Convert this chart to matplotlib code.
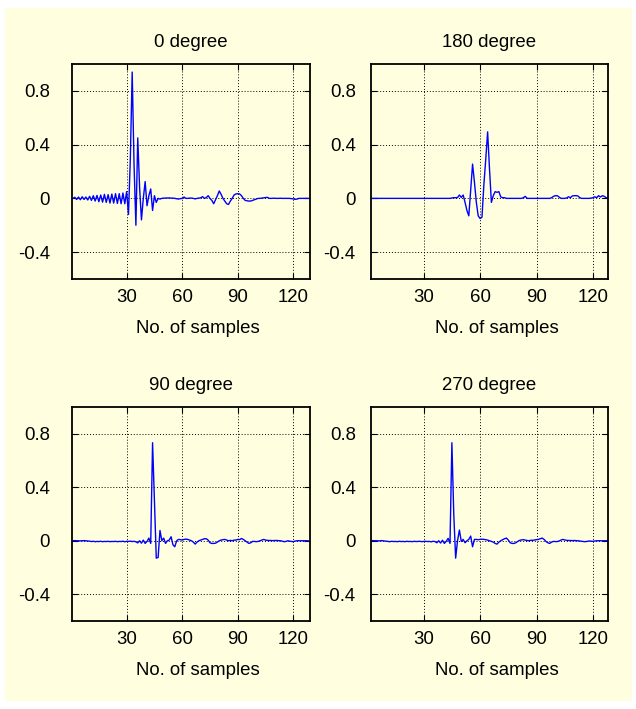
import numpy as np
import matplotlib
matplotlib.use("Agg")
import matplotlib.pyplot as plt
from matplotlib.patches import Rectangle

# --- DATA ---
SAMPLES = np.arange(1, 129)

DEG_0 = [
    0.0, 0.008, -0.008, 0.01, -0.01, 0.012, -0.008, 0.01, -0.012, 0.015,
    -0.015, 0.02, -0.02, 0.022, -0.025, 0.025, -0.028, 0.03, -0.03, 0.028,
    -0.035, 0.032, -0.035, 0.035, -0.038, 0.035, -0.04, 0.04, -0.04, 0.05,
    -0.12, 0.30, 0.94, 0.25, -0.20, 0.45, 0.08, -0.16, 0.0, 0.125,
    -0.055, 0.02, 0.07, -0.09, 0.02, -0.03, 0.0, -0.005, 0.0, 0.002,
    0.002, 0.003, 0.003, 0.002, 0.002, 0.0, -0.003, -0.005, -0.002, 0.0,
    0.01, 0.0, 0.0, 0.002, 0.002, 0.0, -0.004, 0.0, 0.002, 0.004,
    0.013, 0.0, 0.006, 0.02, 0.0, -0.015, -0.04, -0.01, 0.02, 0.055,
    0.03, 0.0, -0.02, -0.04, -0.045, -0.02, 0.0, 0.025, 0.033, 0.035,
    0.033, 0.02, 0.0, -0.015, -0.018, -0.02, -0.02, -0.015, -0.01, -0.005,
    0.0, 0.0, 0.002, 0.004, 0.006, 0.008, 0.0, 0.0, 0.001, 0.001,
    0.0, 0.0, 0.001, 0.0, 0.0, 0.0, 0.0, 0.0, -0.002, -0.004,
    -0.007, -0.005, 0.0, 0.0, 0.0, 0.0, 0.0, 0.0,
]

DEG_180 = [
    0.0, 0.0, 0.0, 0.0, 0.0, 0.0, 0.0, 0.0, 0.0, 0.0,
    0.0, 0.0, 0.0, 0.0, 0.0, 0.0, 0.0, 0.0, 0.0, 0.0,
    0.0, 0.0, 0.0, 0.0, 0.0, 0.0, 0.0, 0.0, 0.0, 0.0,
    0.0, 0.0, 0.0, 0.0, 0.0, 0.0, 0.0, 0.0, 0.0, 0.0,
    0.0, 0.0, 0.0, 0.0, 0.003, 0.005, 0.005, 0.006, 0.025, 0.007,
    0.025, -0.03, -0.09, -0.13, 0.06, 0.255, 0.12, -0.03, -0.13, -0.15,
    -0.14, 0.1, 0.29, 0.495, 0.22, -0.03, 0.02, 0.05, 0.045, 0.05,
    0.01, 0.005, 0.005, 0.0, 0.0, 0.0, 0.0, 0.0, 0.0, 0.0,
    0.0, 0.0, 0.005, 0.015, 0.0, 0.0, 0.0, 0.0, 0.0, 0.0,
    0.0, 0.0, 0.0, 0.0, 0.0, 0.0, 0.0, 0.005, 0.015, 0.02,
    0.02, 0.01, 0.0, 0.0, 0.0, 0.003, 0.012, 0.005, 0.018, 0.02,
    0.02, 0.018, 0.005, 0.0, 0.0, 0.0, 0.0, 0.0, 0.002, 0.005,
    0.012, 0.005, 0.02, 0.01, 0.02, 0.015, 0.005, 0.0,
]

DEG_90 = [
    0.0, 0.001, 0.0, 0.0, -0.001, 0.0, 0.001, 0.0, -0.002, -0.003,
    -0.006, -0.004, -0.007, -0.005, -0.006, -0.004, -0.007, -0.005, -0.006, -0.004,
    -0.007, -0.005, -0.006, -0.004, -0.007, -0.005, -0.006, -0.003, -0.008, -0.004,
    -0.005, -0.003, -0.006, -0.004, -0.008, -0.016, 0.0, -0.018, 0.005, -0.02,
    -0.005, 0.02, -0.02, 0.733, 0.3, -0.13, -0.125, 0.077, 0.0, 0.02,
    -0.02, 0.0, 0.005, 0.03, -0.03, -0.045, 0.0, 0.01, 0.008, 0.005,
    0.01, 0.012, 0.01, 0.005, 0.0, -0.01, -0.025, -0.01, 0.0, 0.005,
    0.01, 0.015, 0.015, 0.005, -0.015, -0.02, -0.02, -0.018, -0.01, 0.0,
    0.005, 0.008, 0.01, 0.005, 0.0, 0.003, 0.0, 0.005, 0.005, 0.01,
    0.008, 0.017, 0.01, 0.0, -0.01, -0.02, -0.015, -0.005, -0.005, -0.007,
    -0.005, 0.0, 0.005, 0.01, 0.005, 0.003, 0.002, 0.002, 0.001, 0.002,
    0.002, 0.001, 0.0, -0.003, -0.007, -0.005, 0.0, -0.003, -0.005, -0.007,
    -0.002, 0.0, 0.0, 0.0, 0.0, 0.0, 0.0, 0.0,
]

DEG_270 = [
    0.0, 0.0, 0.001, 0.0, 0.0, -0.001, 0.0, 0.001, -0.002, -0.003,
    -0.005, -0.007, -0.004, -0.006, -0.005, -0.007, -0.004, -0.006, -0.005, -0.007,
    -0.004, -0.006, -0.005, -0.007, -0.004, -0.006, -0.005, -0.004, -0.007, -0.005,
    -0.004, -0.006, -0.005, -0.008, -0.004, -0.006, -0.015, 0.0, -0.017, 0.004,
    -0.02, -0.004, 0.018, -0.02, 0.733, 0.2, -0.13, 0.0, 0.08, -0.005,
    0.01, -0.015, 0.0, 0.01, 0.035, -0.045, 0.01, 0.01, 0.008, 0.01,
    0.012, 0.01, 0.008, 0.005, 0.0, -0.005, -0.01, -0.02, -0.025, -0.01,
    0.0, 0.008, 0.015, 0.02, 0.005, -0.015, -0.02, -0.02, -0.015, -0.005,
    0.003, 0.006, 0.008, 0.005, 0.002, 0.0, 0.004, 0.003, 0.006, 0.008,
    0.01, 0.015, 0.02, 0.01, -0.005, -0.015, -0.02, -0.01, -0.005, -0.006,
    -0.006, -0.002, 0.005, 0.01, 0.006, 0.003, 0.002, 0.002, 0.001, 0.002,
    0.001, 0.0, -0.002, -0.004, -0.006, -0.007, -0.004, -0.002, -0.003, -0.004,
    -0.002, 0.0, 0.0, 0.0, 0.0, 0.0, 0.0, 0.0,
]

TITLES = ["0 degree", "180 degree", "90 degree", "270 degree"]
X_TICKS = [30, 60, 90, 120]
Y_TICKS = [-0.4, 0, 0.4, 0.8]
Y_TICK_LABELS = ["-0.4", "0", "0.4", "0.8"]
X_LABEL = "No. of samples"

# --- STYLE ---
BG = "#FFFFE0"
LINE_COLOR = "#0000FF"
W, H = 636, 709
FONT_SIZE = 13.4

plt.rcParams["font.family"] = ["Liberation Sans", "DejaVu Sans"]
plt.rcParams["font.size"] = FONT_SIZE


def px_rect(left, top, right, bottom):
    """Pixel box (from the top-left corner) -> figure fraction rect."""
    return [left / W, 1 - bottom / H, (right - left) / W, (bottom - top) / H]


def draw_panel(ax, values, title, xlim, label_pad):
    ax.set_facecolor(BG)
    ax.plot(SAMPLES, values, color=LINE_COLOR, linewidth=1.0)
    ax.set_xlim(*xlim)
    ax.set_ylim(-0.6, 1.0)
    ax.set_xticks(X_TICKS)
    ax.set_yticks(Y_TICKS)
    ax.set_yticklabels(Y_TICK_LABELS)
    ax.grid(True, linestyle=(0, (1, 2)), color="black", linewidth=0.7)
    ax.tick_params(direction="in", top=True, right=True, length=4, width=0.8)
    ax.tick_params(axis="y", pad=label_pad)
    ax.tick_params(axis="x", pad=7)
    for spine in ax.spines.values():
        spine.set_linewidth(1.3)
    ax.set_title(title, pad=12, fontsize=FONT_SIZE)
    ax.set_xlabel(X_LABEL, fontsize=FONT_SIZE)
    # the reference labels sit a few pixels right of the panel centre
    ax.xaxis.set_label_coords(0.53, -0.19)


def main() -> None:
    for series in (DEG_0, DEG_180, DEG_90, DEG_270):
        assert len(series) == len(SAMPLES)

    fig = plt.figure(figsize=(W / 100, H / 100), dpi=100, facecolor="white")
    # light yellow sheet behind the four panels, white rim around it
    sheet = Rectangle((5 / W, 1 - 701 / H), 627 / W, 693 / H,
                      transform=fig.transFigure, facecolor=BG,
                      edgecolor="none", zorder=-10)
    fig.add_artist(sheet)

    boxes = [
        px_rect(72, 64, 310, 279),
        px_rect(371, 64, 608, 279),
        px_rect(72, 407, 310, 621),
        px_rect(371, 407, 608, 621),
    ]
    series = [DEG_0, DEG_180, DEG_90, DEG_270]
    xlims = [(0.5, 129), (2, 128), (0.5, 129), (2, 128)]
    pads = [16, 11, 16, 11]

    for box, values, title, xlim, pad in zip(boxes, series, TITLES, xlims, pads):
        ax = fig.add_axes(box)
        ax.set_zorder(1)
        draw_panel(ax, values, title, xlim, pad)

    fig.savefig("out.png", dpi=100, facecolor="white")


if __name__ == "__main__":
    main()
